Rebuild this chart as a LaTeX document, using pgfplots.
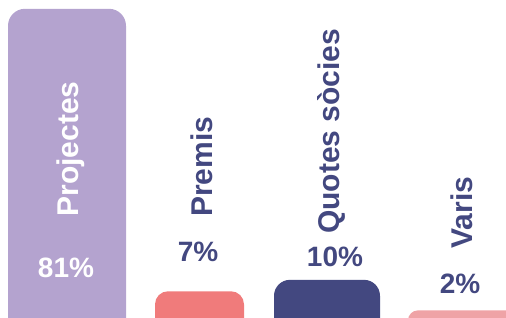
\documentclass[border=0pt]{standalone}
\usepackage{pgfplots}
\pgfplotsset{compat=1.18}
\usepackage{fontspec}
\setmainfont{Liberation Sans}
\definecolor{cPurple}{HTML}{B4A3CF}
\definecolor{cSalmon}{HTML}{F07B7B}
\definecolor{cNavy}{HTML}{434880}
\definecolor{cPink}{HTML}{EFA3A6}
\begin{document}
\begin{tikzpicture}
\begin{axis}[
  name=ax,
  width=506bp, height=318bp, scale only axis,
  axis lines=none, ticks=none,
  xmin=0, xmax=506, ymin=0, ymax=83.3,
  clip=true, clip bounding box=upper bound,
]
% bars: left edge, value, right edge (baseline below the visible bottom)
\addplot[fill=cPurple, draw=none, rounded corners=17bp] coordinates {(8,-10) (8,81) (126,81) (126,-10)} -- cycle;
\addplot[fill=cSalmon, draw=none, rounded corners=13bp] coordinates {(155,-10) (155,7) (244,7) (244,-10)} -- cycle;
\addplot[fill=cNavy, draw=none, rounded corners=16bp] coordinates {(274,-10) (274,10) (380,10) (380,-10)} -- cycle;
\addplot[fill=cPink, draw=none, rounded corners=10bp] coordinates {(408,-10) (408,2) (520,2) (520,-10)} -- cycle;
\end{axis}
\begin{axis}[
  width=506bp, height=318bp, scale only axis,
  axis lines=none, ticks=none,
  xmin=0, xmax=506, ymin=0, ymax=83.3, clip=false,
]
\node[rotate=90, anchor=base, text=white, font=\bfseries\fontsize{30bp}{30bp}\selectfont] at (axis cs:78,44.3) {Projectes};
\node[anchor=center, text=white, font=\bfseries\fontsize{28bp}{28bp}\selectfont] at (axis cs:66,13.1) {81\%};
\node[rotate=90, anchor=base, text=cNavy, font=\bfseries\fontsize{30bp}{30bp}\selectfont] at (axis cs:212,39.6) {Premis};
\node[anchor=center, text=cNavy, font=\bfseries\fontsize{28bp}{28bp}\selectfont] at (axis cs:198,17.3) {7\%};
\node[rotate=90, anchor=base, text=cNavy, font=\bfseries\fontsize{30bp}{30bp}\selectfont] at (axis cs:339,48.9) {Quotes sòcies};
\node[anchor=center, text=cNavy, font=\bfseries\fontsize{28bp}{28bp}\selectfont] at (axis cs:335,15.9) {10\%};
\node[rotate=90, anchor=base, text=cNavy, font=\bfseries\fontsize{30bp}{30bp}\selectfont] at (axis cs:472,27.6) {Varis};
\node[anchor=center, text=cNavy, font=\bfseries\fontsize{28bp}{28bp}\selectfont] at (axis cs:460,8.9) {2\%};
\end{axis}
\pgfresetboundingbox
\path[use as bounding box] (ax.south west) rectangle (ax.north east);
\end{tikzpicture}
\end{document}
